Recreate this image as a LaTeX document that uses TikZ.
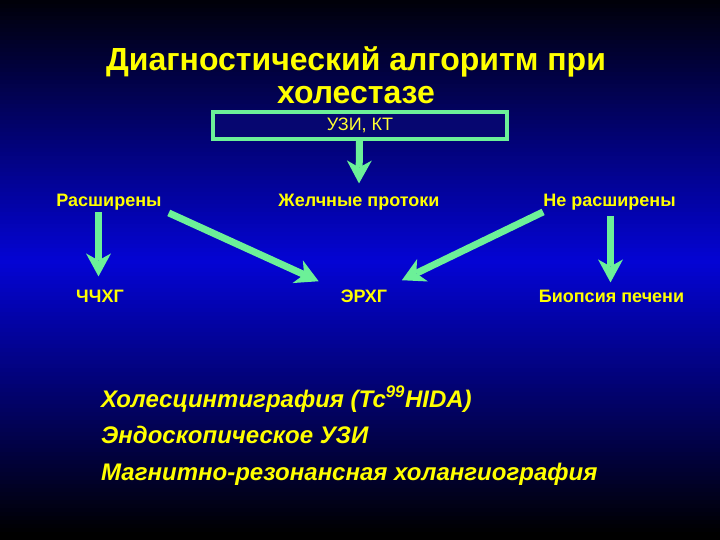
\documentclass[tikz,border=0pt]{standalone}
\usepackage{fontspec}
\setmainfont{Liberation Sans}
\usetikzlibrary{arrows.meta}
\definecolor{ylw}{RGB}{255,255,0}
\definecolor{grn}{RGB}{108,240,152}
\definecolor{navy}{RGB}{6,6,112}
\definecolor{midblue}{RGB}{4,4,212}
\tikzset{
  lbl/.style={text=ylw,font=\bfseries\fontsize{18}{20}\selectfont,inner sep=1pt,anchor=base},
  listitem/.style={text=ylw,font=\bfseries\itshape\fontsize{24}{28}\selectfont,inner sep=0pt,anchor=base west},
  arr/.style={draw=grn,line width=7pt,-{Stealth[length=23pt,width=25pt,inset=7pt,line width=0pt]}},
}
\begin{document}
\begin{tikzpicture}[x=1pt,y=-1pt]
\useasboundingbox (0,0) rectangle (720,540);
\fill[black] (0,0) rectangle (720,540);
\foreach \yy in {0,4,...,536}{
  \pgfmathsetmacro\pp{max(0,100*(1-abs(\yy+2-262)/272))}
  \fill[midblue!\pp!black] (0,\yy) rectangle (720,\yy+4.4);
}
% title
\node[text=ylw,font=\bfseries\fontsize{32}{33}\selectfont,align=center,anchor=base,inner sep=0pt] (title) at (356,104) {Диагностический алгоритм при\\холестазе};
% box
\node[draw=grn,line width=4pt,fill=navy,minimum width=294pt,minimum height=27pt,inner sep=0pt,text=ylw!80!white,font=\fontsize{18}{20}\selectfont] (box) at (360,125.5) {УЗИ, КТ};
% labels
\node[lbl] (ras) at (109,207) {Расширены};
\node[lbl] (zhel) at (359,207) {Желчные протоки};
\node[lbl] (nera) at (609.5,207) {Не расширены};
\node[lbl] (chch) at (100,302) {ЧЧХГ};
\node[lbl] (erhg) at (364,302) {ЭРХГ};
\node[lbl] (bio) at (611.5,302) {Биопсия печени};
% arrows
\draw[arr] ([xshift=-0.5pt]box.south) -- ([yshift=10pt]zhel.north);
\draw[arr] ([xshift=-10.5pt]ras.south) -- ([xshift=-1.5pt,yshift=12pt]chch.north);
\draw[arr] ([xshift=6pt,yshift=-1pt]ras.south east) -- ([xshift=-21pt,yshift=7pt]erhg.north west);
\draw[arr] ([xshift=1pt]nera.south west) -- ([xshift=13.5pt,yshift=8pt]erhg.north east);
\draw[arr] ([xshift=1pt,yshift=-4pt]nera.south) -- ([xshift=-1pt,yshift=6pt]bio.north);
% list
\node[listitem] (l1) at (101,407) {Холесцинтиграфия (Tc\textsuperscript{99}HIDA)};
\node[listitem] (l2) at (101,443) {Эндоскопическое УЗИ};
\node[listitem] (l3) at (101,480) {Магнитно-резонансная холангиография};
\end{tikzpicture}
\end{document}
